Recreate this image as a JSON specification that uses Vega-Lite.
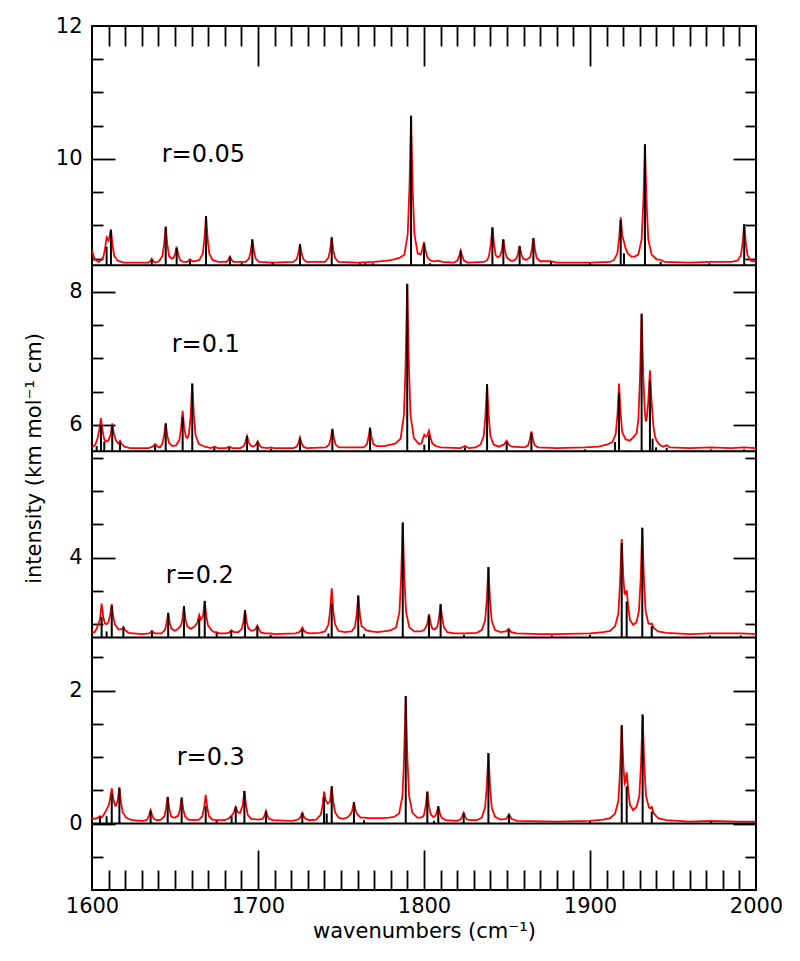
{
  "$schema": "https://vega.github.io/schema/vega-lite/v6.json",
  "width": 664,
  "height": 864,
  "autosize": {"type": "none"},
  "padding": {"left": 92, "top": 26, "right": 44, "bottom": 71},
  "config": {
    "font": "DejaVu Sans",
    "view": {"stroke": "#000000", "strokeWidth": 2},
    "axis": {
      "domain": false,
      "grid": false,
      "tickColor": "#000000",
      "tickWidth": 1.8,
      "labelColor": "#000000",
      "titleColor": "#000000",
      "labelFont": "DejaVu Sans",
      "titleFont": "DejaVu Sans",
      "labelFontSize": 21,
      "titleFontSize": 21,
      "titleFontWeight": "normal",
      "labelFlush": false,
      "labelOverlap": false
    }
  },
  "datasets": {
    "curve": [
      {"p":1,"x":1600,"y":8.63},{"p":1,"x":1601,"y":8.53},{"p":1,"x":1602,"y":8.48},{"p":1,"x":1604,"y":8.45},{"p":1,"x":1605,"y":8.47},{"p":1,"x":1606.8,"y":8.52},{"p":1,"x":1607.8,"y":8.64},{"p":1,"x":1608.8,"y":8.82},{"p":1,"x":1610,"y":8.77},{"p":1,"x":1611.4,"y":8.94},{"p":1,"x":1612.4,"y":8.70},{"p":1,"x":1613.4,"y":8.54},{"p":1,"x":1615.4,"y":8.47},{"p":1,"x":1619,"y":8.44},{"p":1,"x":1634,"y":8.44},{"p":1,"x":1635,"y":8.46},{"p":1,"x":1636,"y":8.50},{"p":1,"x":1637,"y":8.46},{"p":1,"x":1638,"y":8.44},{"p":1,"x":1640.4,"y":8.46},{"p":1,"x":1642.4,"y":8.54},{"p":1,"x":1643.4,"y":8.71},{"p":1,"x":1644.4,"y":8.98},{"p":1,"x":1645.4,"y":8.71},{"p":1,"x":1646.4,"y":8.54},{"p":1,"x":1648,"y":8.50},{"p":1,"x":1649,"y":8.51},{"p":1,"x":1650,"y":8.56},{"p":1,"x":1651,"y":8.68},{"p":1,"x":1652,"y":8.56},{"p":1,"x":1653,"y":8.48},{"p":1,"x":1655,"y":8.45},{"p":1,"x":1657.5,"y":8.45},{"p":1,"x":1659,"y":8.49},{"p":1,"x":1660.5,"y":8.46},{"p":1,"x":1662,"y":8.46},{"p":1,"x":1664.7,"y":8.48},{"p":1,"x":1666.7,"y":8.57},{"p":1,"x":1667.7,"y":8.79},{"p":1,"x":1668.7,"y":9.14},{"p":1,"x":1669.7,"y":8.79},{"p":1,"x":1670.7,"y":8.57},{"p":1,"x":1672.7,"y":8.48},{"p":1,"x":1676,"y":8.45},{"p":1,"x":1681.1,"y":8.45},{"p":1,"x":1682.1,"y":8.48},{"p":1,"x":1683.1,"y":8.53},{"p":1,"x":1684.1,"y":8.48},{"p":1,"x":1685.1,"y":8.45},{"p":1,"x":1690.2,"y":8.45},{"p":1,"x":1692.6,"y":8.45},{"p":1,"x":1694.6,"y":8.50},{"p":1,"x":1695.6,"y":8.61},{"p":1,"x":1696.6,"y":8.79},{"p":1,"x":1697.6,"y":8.61},{"p":1,"x":1698.6,"y":8.50},{"p":1,"x":1700.6,"y":8.45},{"p":1,"x":1708.8,"y":8.44},{"p":1,"x":1721.3,"y":8.45},{"p":1,"x":1723.3,"y":8.49},{"p":1,"x":1724.3,"y":8.58},{"p":1,"x":1725.3,"y":8.72},{"p":1,"x":1726.3,"y":8.58},{"p":1,"x":1727.3,"y":8.49},{"p":1,"x":1729.3,"y":8.45},{"p":1,"x":1740.4,"y":8.45},{"p":1,"x":1742.4,"y":8.51},{"p":1,"x":1743.4,"y":8.62},{"p":1,"x":1744.4,"y":8.82},{"p":1,"x":1745.4,"y":8.62},{"p":1,"x":1746.4,"y":8.51},{"p":1,"x":1748.4,"y":8.45},{"p":1,"x":1760,"y":8.44},{"p":1,"x":1770,"y":8.45},{"p":1,"x":1778,"y":8.47},{"p":1,"x":1782,"y":8.49},{"p":1,"x":1785.2,"y":8.51},{"p":1,"x":1788.2,"y":8.56},{"p":1,"x":1790.2,"y":8.87},{"p":1,"x":1791.2,"y":9.54},{"p":1,"x":1792.2,"y":10.65},{"p":1,"x":1793.2,"y":9.54},{"p":1,"x":1794.2,"y":8.87},{"p":1,"x":1796.2,"y":8.58},{"p":1,"x":1798,"y":8.56},{"p":1,"x":1799,"y":8.64},{"p":1,"x":1800,"y":8.75},{"p":1,"x":1801,"y":8.62},{"p":1,"x":1802,"y":8.52},{"p":1,"x":1804,"y":8.47},{"p":1,"x":1806,"y":8.46},{"p":1,"x":1808.6,"y":8.47},{"p":1,"x":1811,"y":8.45},{"p":1,"x":1818.1,"y":8.44},{"p":1,"x":1820.1,"y":8.47},{"p":1,"x":1821.1,"y":8.53},{"p":1,"x":1822.1,"y":8.62},{"p":1,"x":1823.1,"y":8.53},{"p":1,"x":1824.1,"y":8.47},{"p":1,"x":1826.1,"y":8.44},{"p":1,"x":1836,"y":8.45},{"p":1,"x":1838.2,"y":8.48},{"p":1,"x":1839.2,"y":8.55},{"p":1,"x":1840.2,"y":8.70},{"p":1,"x":1841.2,"y":8.97},{"p":1,"x":1842.2,"y":8.71},{"p":1,"x":1843.2,"y":8.55},{"p":1,"x":1844.5,"y":8.52},{"p":1,"x":1845.8,"y":8.54},{"p":1,"x":1846.8,"y":8.62},{"p":1,"x":1847.8,"y":8.79},{"p":1,"x":1848.8,"y":8.62},{"p":1,"x":1849.8,"y":8.52},{"p":1,"x":1852,"y":8.47},{"p":1,"x":1854,"y":8.47},{"p":1,"x":1855.6,"y":8.50},{"p":1,"x":1856.6,"y":8.57},{"p":1,"x":1857.6,"y":8.69},{"p":1,"x":1858.6,"y":8.57},{"p":1,"x":1859.6,"y":8.50},{"p":1,"x":1861.5,"y":8.48},{"p":1,"x":1863.9,"y":8.52},{"p":1,"x":1864.9,"y":8.63},{"p":1,"x":1865.9,"y":8.81},{"p":1,"x":1866.9,"y":8.63},{"p":1,"x":1867.9,"y":8.51},{"p":1,"x":1870,"y":8.46},{"p":1,"x":1876.5,"y":8.46},{"p":1,"x":1880,"y":8.44},{"p":1,"x":1900,"y":8.44},{"p":1,"x":1912,"y":8.45},{"p":1,"x":1914.5,"y":8.48},{"p":1,"x":1916.5,"y":8.58},{"p":1,"x":1917.5,"y":8.79},{"p":1,"x":1918.5,"y":9.12},{"p":1,"x":1919.5,"y":8.84},{"p":1,"x":1920.5,"y":8.75},{"p":1,"x":1921.5,"y":8.65},{"p":1,"x":1923,"y":8.57},{"p":1,"x":1925,"y":8.53},{"p":1,"x":1927,"y":8.53},{"p":1,"x":1929.1,"y":8.56},{"p":1,"x":1931.1,"y":8.79},{"p":1,"x":1932.1,"y":9.33},{"p":1,"x":1933.1,"y":10.22},{"p":1,"x":1934.1,"y":9.33},{"p":1,"x":1935.1,"y":8.79},{"p":1,"x":1937.1,"y":8.56},{"p":1,"x":1940.1,"y":8.49},{"p":1,"x":1942.6,"y":8.48},{"p":1,"x":1945,"y":8.45},{"p":1,"x":1960,"y":8.44},{"p":1,"x":1971.9,"y":8.45},{"p":1,"x":1985,"y":8.45},{"p":1,"x":1988.9,"y":8.47},{"p":1,"x":1990.9,"y":8.55},{"p":1,"x":1991.9,"y":8.73},{"p":1,"x":1992.9,"y":9.02},{"p":1,"x":1993.9,"y":8.73},{"p":1,"x":1994.9,"y":8.55},{"p":1,"x":1996.9,"y":8.47},{"p":1,"x":2000,"y":8.45},

      {"p":2,"x":1600,"y":5.66},{"p":2,"x":1602,"y":5.70},{"p":2,"x":1603.4,"y":5.80},{"p":2,"x":1604.4,"y":5.93},{"p":2,"x":1605.4,"y":6.10},{"p":2,"x":1606.4,"y":5.90},{"p":2,"x":1607.4,"y":5.78},{"p":2,"x":1608.5,"y":5.75},{"p":2,"x":1609.8,"y":5.76},{"p":2,"x":1611.2,"y":5.85},{"p":2,"x":1612.2,"y":6.02},{"p":2,"x":1613.2,"y":5.86},{"p":2,"x":1614.5,"y":5.76},{"p":2,"x":1615.9,"y":5.72},{"p":2,"x":1616.9,"y":5.76},{"p":2,"x":1617.9,"y":5.71},{"p":2,"x":1619.5,"y":5.67},{"p":2,"x":1623,"y":5.65},{"p":2,"x":1634,"y":5.65},{"p":2,"x":1636.5,"y":5.67},{"p":2,"x":1638,"y":5.71},{"p":2,"x":1639.5,"y":5.67},{"p":2,"x":1641,"y":5.66},{"p":2,"x":1642.4,"y":5.72},{"p":2,"x":1643.4,"y":5.83},{"p":2,"x":1644.4,"y":6.02},{"p":2,"x":1645.4,"y":5.83},{"p":2,"x":1646.4,"y":5.73},{"p":2,"x":1648.4,"y":5.68},{"p":2,"x":1650.6,"y":5.69},{"p":2,"x":1652.6,"y":5.77},{"p":2,"x":1653.6,"y":5.93},{"p":2,"x":1654.6,"y":6.21},{"p":2,"x":1655.6,"y":5.94},{"p":2,"x":1656.6,"y":5.82},{"p":2,"x":1657.5,"y":5.80},{"p":2,"x":1658.4,"y":5.86},{"p":2,"x":1659.4,"y":6.13},{"p":2,"x":1660.4,"y":6.62},{"p":2,"x":1661.4,"y":6.13},{"p":2,"x":1662.4,"y":5.84},{"p":2,"x":1664.4,"y":5.71},{"p":2,"x":1668,"y":5.67},{"p":2,"x":1671.7,"y":5.65},{"p":2,"x":1673.7,"y":5.67},{"p":2,"x":1675.7,"y":5.65},{"p":2,"x":1680.7,"y":5.65},{"p":2,"x":1682.7,"y":5.67},{"p":2,"x":1684.7,"y":5.65},{"p":2,"x":1689.4,"y":5.65},{"p":2,"x":1691.4,"y":5.68},{"p":2,"x":1692.4,"y":5.74},{"p":2,"x":1693.4,"y":5.83},{"p":2,"x":1694.4,"y":5.74},{"p":2,"x":1695.4,"y":5.69},{"p":2,"x":1697,"y":5.67},{"p":2,"x":1698.8,"y":5.70},{"p":2,"x":1699.8,"y":5.75},{"p":2,"x":1700.8,"y":5.70},{"p":2,"x":1702,"y":5.66},{"p":2,"x":1706,"y":5.65},{"p":2,"x":1707.8,"y":5.66},{"p":2,"x":1709.5,"y":5.65},{"p":2,"x":1721.3,"y":5.65},{"p":2,"x":1723.3,"y":5.67},{"p":2,"x":1724.3,"y":5.72},{"p":2,"x":1725.3,"y":5.81},{"p":2,"x":1726.3,"y":5.72},{"p":2,"x":1727.3,"y":5.67},{"p":2,"x":1729.3,"y":5.65},{"p":2,"x":1740.8,"y":5.66},{"p":2,"x":1742.8,"y":5.70},{"p":2,"x":1743.8,"y":5.79},{"p":2,"x":1744.8,"y":5.94},{"p":2,"x":1745.8,"y":5.79},{"p":2,"x":1746.8,"y":5.70},{"p":2,"x":1748.8,"y":5.66},{"p":2,"x":1763.5,"y":5.66},{"p":2,"x":1765.5,"y":5.70},{"p":2,"x":1766.5,"y":5.80},{"p":2,"x":1767.5,"y":5.96},{"p":2,"x":1768.5,"y":5.80},{"p":2,"x":1769.5,"y":5.71},{"p":2,"x":1771.5,"y":5.68},{"p":2,"x":1776,"y":5.68},{"p":2,"x":1780,"y":5.70},{"p":2,"x":1782.9,"y":5.72},{"p":2,"x":1785.9,"y":5.79},{"p":2,"x":1787.9,"y":6.14},{"p":2,"x":1788.9,"y":6.88},{"p":2,"x":1789.9,"y":8.12},{"p":2,"x":1790.9,"y":6.88},{"p":2,"x":1791.9,"y":6.14},{"p":2,"x":1793.9,"y":5.80},{"p":2,"x":1796.9,"y":5.71},{"p":2,"x":1798.5,"y":5.72},{"p":2,"x":1799.2,"y":5.78},{"p":2,"x":1800.2,"y":5.85},{"p":2,"x":1801.2,"y":5.82},{"p":2,"x":1802,"y":5.84},{"p":2,"x":1803,"y":5.91},{"p":2,"x":1804,"y":5.80},{"p":2,"x":1805,"y":5.72},{"p":2,"x":1807,"y":5.68},{"p":2,"x":1810,"y":5.66},{"p":2,"x":1822,"y":5.65},{"p":2,"x":1824.7,"y":5.68},{"p":2,"x":1827,"y":5.65},{"p":2,"x":1831,"y":5.66},{"p":2,"x":1834,"y":5.70},{"p":2,"x":1836,"y":5.83},{"p":2,"x":1837,"y":6.13},{"p":2,"x":1838,"y":6.61},{"p":2,"x":1839,"y":6.13},{"p":2,"x":1840,"y":5.83},{"p":2,"x":1842,"y":5.70},{"p":2,"x":1845,"y":5.67},{"p":2,"x":1848,"y":5.70},{"p":2,"x":1849.8,"y":5.76},{"p":2,"x":1851,"y":5.70},{"p":2,"x":1853,"y":5.67},{"p":2,"x":1860.7,"y":5.66},{"p":2,"x":1862.7,"y":5.69},{"p":2,"x":1863.7,"y":5.77},{"p":2,"x":1864.7,"y":5.90},{"p":2,"x":1865.7,"y":5.77},{"p":2,"x":1866.7,"y":5.69},{"p":2,"x":1868.7,"y":5.66},{"p":2,"x":1880,"y":5.65},{"p":2,"x":1897,"y":5.66},{"p":2,"x":1905,"y":5.67},{"p":2,"x":1910,"y":5.70},{"p":2,"x":1913.5,"y":5.74},{"p":2,"x":1915.5,"y":5.86},{"p":2,"x":1916.5,"y":6.14},{"p":2,"x":1917.5,"y":6.62},{"p":2,"x":1918.5,"y":6.14},{"p":2,"x":1919.5,"y":5.88},{"p":2,"x":1921.5,"y":5.78},{"p":2,"x":1924,"y":5.76},{"p":2,"x":1926,"y":5.81},{"p":2,"x":1928.1,"y":5.87},{"p":2,"x":1929.1,"y":6.07},{"p":2,"x":1930.1,"y":6.69},{"p":2,"x":1931.1,"y":7.67},{"p":2,"x":1932.1,"y":6.72},{"p":2,"x":1933.1,"y":6.17},{"p":2,"x":1933.6,"y":6.05},{"p":2,"x":1934.1,"y":6.08},{"p":2,"x":1935.1,"y":6.35},{"p":2,"x":1936.1,"y":6.82},{"p":2,"x":1937.1,"y":6.35},{"p":2,"x":1938.1,"y":6.00},{"p":2,"x":1939.1,"y":5.83},{"p":2,"x":1940.1,"y":5.76},{"p":2,"x":1942,"y":5.70},{"p":2,"x":1944,"y":5.67},{"p":2,"x":1946.2,"y":5.69},{"p":2,"x":1948,"y":5.66},{"p":2,"x":1960,"y":5.65},{"p":2,"x":1972.9,"y":5.66},{"p":2,"x":1985,"y":5.65},{"p":2,"x":1992.8,"y":5.66},{"p":2,"x":2000,"y":5.65},

      {"p":3,"x":1600,"y":2.87},{"p":3,"x":1601.5,"y":2.88},{"p":3,"x":1602.8,"y":2.93},{"p":3,"x":1604.8,"y":3.07},{"p":3,"x":1605.8,"y":3.31},{"p":3,"x":1606.8,"y":3.10},{"p":3,"x":1607.8,"y":3.01},{"p":3,"x":1608.8,"y":3.00},{"p":3,"x":1609.9,"y":3.03},{"p":3,"x":1610.9,"y":3.13},{"p":3,"x":1611.9,"y":3.30},{"p":3,"x":1612.9,"y":3.10},{"p":3,"x":1613.9,"y":2.99},{"p":3,"x":1615.9,"y":2.92},{"p":3,"x":1617.9,"y":2.92},{"p":3,"x":1618.9,"y":2.96},{"p":3,"x":1619.9,"y":2.91},{"p":3,"x":1622,"y":2.87},{"p":3,"x":1630,"y":2.85},{"p":3,"x":1634.6,"y":2.86},{"p":3,"x":1636.1,"y":2.90},{"p":3,"x":1637.6,"y":2.86},{"p":3,"x":1641.9,"y":2.86},{"p":3,"x":1643.9,"y":2.91},{"p":3,"x":1644.9,"y":3.01},{"p":3,"x":1645.9,"y":3.17},{"p":3,"x":1646.9,"y":3.01},{"p":3,"x":1647.9,"y":2.93},{"p":3,"x":1649.9,"y":2.90},{"p":3,"x":1651.4,"y":2.92},{"p":3,"x":1653.4,"y":2.97},{"p":3,"x":1654.4,"y":3.06},{"p":3,"x":1655.4,"y":3.27},{"p":3,"x":1656.4,"y":3.06},{"p":3,"x":1657.4,"y":2.97},{"p":3,"x":1659.4,"y":2.93},{"p":3,"x":1661.6,"y":2.96},{"p":3,"x":1662.6,"y":2.99},{"p":3,"x":1663.6,"y":3.03},{"p":3,"x":1664.6,"y":3.14},{"p":3,"x":1665.6,"y":3.07},{"p":3,"x":1666.9,"y":3.12},{"p":3,"x":1667.9,"y":3.35},{"p":3,"x":1668.9,"y":3.11},{"p":3,"x":1669.9,"y":2.98},{"p":3,"x":1671.9,"y":2.91},{"p":3,"x":1673.6,"y":2.88},{"p":3,"x":1675.1,"y":2.88},{"p":3,"x":1676.6,"y":2.86},{"p":3,"x":1680,"y":2.86},{"p":3,"x":1682.4,"y":2.87},{"p":3,"x":1683.9,"y":2.91},{"p":3,"x":1685.4,"y":2.88},{"p":3,"x":1688.2,"y":2.88},{"p":3,"x":1690.2,"y":2.93},{"p":3,"x":1691.2,"y":3.03},{"p":3,"x":1692.2,"y":3.21},{"p":3,"x":1693.2,"y":3.03},{"p":3,"x":1694.2,"y":2.94},{"p":3,"x":1696,"y":2.90},{"p":3,"x":1697.6,"y":2.91},{"p":3,"x":1698.6,"y":2.93},{"p":3,"x":1699.6,"y":2.98},{"p":3,"x":1700.6,"y":2.92},{"p":3,"x":1701.6,"y":2.88},{"p":3,"x":1704,"y":2.86},{"p":3,"x":1707.6,"y":2.86},{"p":3,"x":1710,"y":2.85},{"p":3,"x":1722.7,"y":2.86},{"p":3,"x":1724.7,"y":2.88},{"p":3,"x":1725.7,"y":2.90},{"p":3,"x":1726.7,"y":2.95},{"p":3,"x":1727.7,"y":2.90},{"p":3,"x":1728.7,"y":2.88},{"p":3,"x":1730.7,"y":2.86},{"p":3,"x":1737,"y":2.87},{"p":3,"x":1740.4,"y":2.89},{"p":3,"x":1742.4,"y":2.99},{"p":3,"x":1743.4,"y":3.19},{"p":3,"x":1744.4,"y":3.54},{"p":3,"x":1745.4,"y":3.19},{"p":3,"x":1746.4,"y":3.00},{"p":3,"x":1748.4,"y":2.90},{"p":3,"x":1752,"y":2.88},{"p":3,"x":1756.4,"y":2.89},{"p":3,"x":1758.4,"y":2.96},{"p":3,"x":1759.4,"y":3.14},{"p":3,"x":1760.4,"y":3.43},{"p":3,"x":1761.4,"y":3.14},{"p":3,"x":1762.4,"y":2.97},{"p":3,"x":1763.9,"y":2.94},{"p":3,"x":1765,"y":2.91},{"p":3,"x":1768,"y":2.89},{"p":3,"x":1772,"y":2.88},{"p":3,"x":1778,"y":2.90},{"p":3,"x":1780.2,"y":2.91},{"p":3,"x":1783.2,"y":2.95},{"p":3,"x":1785.2,"y":3.18},{"p":3,"x":1786.2,"y":3.69},{"p":3,"x":1787.2,"y":4.53},{"p":3,"x":1788.2,"y":3.69},{"p":3,"x":1789.2,"y":3.18},{"p":3,"x":1791.2,"y":2.95},{"p":3,"x":1794.2,"y":2.89},{"p":3,"x":1798,"y":2.89},{"p":3,"x":1800,"y":2.91},{"p":3,"x":1801,"y":2.95},{"p":3,"x":1802,"y":3.01},{"p":3,"x":1803,"y":3.15},{"p":3,"x":1804,"y":3.01},{"p":3,"x":1805,"y":2.93},{"p":3,"x":1806.5,"y":2.92},{"p":3,"x":1808,"y":2.96},{"p":3,"x":1809,"y":3.08},{"p":3,"x":1810,"y":3.30},{"p":3,"x":1811,"y":3.08},{"p":3,"x":1812,"y":2.95},{"p":3,"x":1814,"y":2.88},{"p":3,"x":1818,"y":2.86},{"p":3,"x":1824.1,"y":2.86},{"p":3,"x":1831.8,"y":2.87},{"p":3,"x":1834.8,"y":2.91},{"p":3,"x":1836.8,"y":3.05},{"p":3,"x":1837.8,"y":3.35},{"p":3,"x":1838.8,"y":3.86},{"p":3,"x":1839.8,"y":3.35},{"p":3,"x":1840.8,"y":3.05},{"p":3,"x":1842.8,"y":2.91},{"p":3,"x":1846,"y":2.88},{"p":3,"x":1849.5,"y":2.89},{"p":3,"x":1851,"y":2.93},{"p":3,"x":1852.5,"y":2.88},{"p":3,"x":1856,"y":2.86},{"p":3,"x":1870,"y":2.85},{"p":3,"x":1880,"y":2.85},{"p":3,"x":1900,"y":2.86},{"p":3,"x":1908,"y":2.88},{"p":3,"x":1912.1,"y":2.90},{"p":3,"x":1915.1,"y":2.97},{"p":3,"x":1917.1,"y":3.16},{"p":3,"x":1918.1,"y":3.62},{"p":3,"x":1919.1,"y":4.28},{"p":3,"x":1920.1,"y":3.70},{"p":3,"x":1920.8,"y":3.46},{"p":3,"x":1921.2,"y":3.45},{"p":3,"x":1922.1,"y":3.51},{"p":3,"x":1923.1,"y":3.25},{"p":3,"x":1924.1,"y":3.06},{"p":3,"x":1926,"y":2.99},{"p":3,"x":1928,"y":3.03},{"p":3,"x":1929.5,"y":3.20},{"p":3,"x":1930.5,"y":3.67},{"p":3,"x":1931.5,"y":4.45},{"p":3,"x":1932.5,"y":3.67},{"p":3,"x":1933.5,"y":3.20},{"p":3,"x":1935.2,"y":3.01},{"p":3,"x":1936.2,"y":3.00},{"p":3,"x":1937.2,"y":3.01},{"p":3,"x":1938.5,"y":2.94},{"p":3,"x":1941,"y":2.89},{"p":3,"x":1946,"y":2.87},{"p":3,"x":1960,"y":2.85},{"p":3,"x":1972.3,"y":2.86},{"p":3,"x":1990.8,"y":2.86},{"p":3,"x":2000,"y":2.85},

      {"p":4,"x":1600,"y":0.08},{"p":4,"x":1602,"y":0.07},{"p":4,"x":1603.8,"y":0.09},{"p":4,"x":1604.8,"y":0.11},{"p":4,"x":1605.8,"y":0.09},{"p":4,"x":1607,"y":0.13},{"p":4,"x":1608.8,"y":0.21},{"p":4,"x":1610,"y":0.27},{"p":4,"x":1610.9,"y":0.37},{"p":4,"x":1611.9,"y":0.53},{"p":4,"x":1612.9,"y":0.36},{"p":4,"x":1613.9,"y":0.27},{"p":4,"x":1614.5,"y":0.27},{"p":4,"x":1615.5,"y":0.35},{"p":4,"x":1616.5,"y":0.54},{"p":4,"x":1617.5,"y":0.31},{"p":4,"x":1618.5,"y":0.17},{"p":4,"x":1620.5,"y":0.09},{"p":4,"x":1624,"y":0.05},{"p":4,"x":1630,"y":0.04},{"p":4,"x":1631.3,"y":0.04},{"p":4,"x":1633.3,"y":0.06},{"p":4,"x":1634.3,"y":0.12},{"p":4,"x":1635.3,"y":0.20},{"p":4,"x":1636.3,"y":0.12},{"p":4,"x":1637.3,"y":0.07},{"p":4,"x":1639.3,"y":0.05},{"p":4,"x":1641.6,"y":0.06},{"p":4,"x":1643.6,"y":0.11},{"p":4,"x":1644.6,"y":0.22},{"p":4,"x":1645.6,"y":0.40},{"p":4,"x":1646.6,"y":0.22},{"p":4,"x":1647.6,"y":0.11},{"p":4,"x":1649,"y":0.09},{"p":4,"x":1650,"y":0.09},{"p":4,"x":1652,"y":0.12},{"p":4,"x":1653,"y":0.21},{"p":4,"x":1654,"y":0.39},{"p":4,"x":1655,"y":0.21},{"p":4,"x":1656,"y":0.11},{"p":4,"x":1658,"y":0.06},{"p":4,"x":1662,"y":0.05},{"p":4,"x":1664.5,"y":0.06},{"p":4,"x":1666.5,"y":0.11},{"p":4,"x":1667.5,"y":0.23},{"p":4,"x":1668.5,"y":0.43},{"p":4,"x":1669.5,"y":0.23},{"p":4,"x":1670.5,"y":0.11},{"p":4,"x":1672.5,"y":0.06},{"p":4,"x":1675.1,"y":0.05},{"p":4,"x":1680,"y":0.05},{"p":4,"x":1682.5,"y":0.08},{"p":4,"x":1684.1,"y":0.12},{"p":4,"x":1685.1,"y":0.15},{"p":4,"x":1686.6,"y":0.25},{"p":4,"x":1687.8,"y":0.17},{"p":4,"x":1689.2,"y":0.16},{"p":4,"x":1690.8,"y":0.27},{"p":4,"x":1691.8,"y":0.49},{"p":4,"x":1692.8,"y":0.27},{"p":4,"x":1693.8,"y":0.13},{"p":4,"x":1695.8,"y":0.07},{"p":4,"x":1700,"y":0.06},{"p":4,"x":1702.8,"y":0.07},{"p":4,"x":1703.8,"y":0.11},{"p":4,"x":1704.8,"y":0.19},{"p":4,"x":1705.8,"y":0.11},{"p":4,"x":1706.8,"y":0.07},{"p":4,"x":1709,"y":0.05},{"p":4,"x":1720,"y":0.04},{"p":4,"x":1723,"y":0.05},{"p":4,"x":1724.7,"y":0.07},{"p":4,"x":1725.7,"y":0.10},{"p":4,"x":1726.7,"y":0.16},{"p":4,"x":1727.7,"y":0.10},{"p":4,"x":1728.7,"y":0.07},{"p":4,"x":1731,"y":0.05},{"p":4,"x":1735,"y":0.06},{"p":4,"x":1737.8,"y":0.13},{"p":4,"x":1738.8,"y":0.26},{"p":4,"x":1739.8,"y":0.48},{"p":4,"x":1740.8,"y":0.35},{"p":4,"x":1742,"y":0.30},{"p":4,"x":1743.4,"y":0.33},{"p":4,"x":1744.4,"y":0.56},{"p":4,"x":1745.4,"y":0.32},{"p":4,"x":1746.4,"y":0.17},{"p":4,"x":1748.4,"y":0.09},{"p":4,"x":1751,"y":0.07},{"p":4,"x":1753.8,"y":0.09},{"p":4,"x":1755.8,"y":0.14},{"p":4,"x":1756.8,"y":0.20},{"p":4,"x":1757.8,"y":0.32},{"p":4,"x":1758.8,"y":0.20},{"p":4,"x":1759.8,"y":0.14},{"p":4,"x":1761.8,"y":0.09},{"p":4,"x":1763.9,"y":0.09},{"p":4,"x":1766,"y":0.08},{"p":4,"x":1775,"y":0.08},{"p":4,"x":1779,"y":0.09},{"p":4,"x":1782,"y":0.10},{"p":4,"x":1785,"y":0.15},{"p":4,"x":1787,"y":0.41},{"p":4,"x":1788,"y":0.98},{"p":4,"x":1789,"y":1.92},{"p":4,"x":1790,"y":0.98},{"p":4,"x":1791,"y":0.42},{"p":4,"x":1793,"y":0.16},{"p":4,"x":1796,"y":0.09},{"p":4,"x":1798,"y":0.09},{"p":4,"x":1799.5,"y":0.11},{"p":4,"x":1800,"y":0.13},{"p":4,"x":1801,"y":0.26},{"p":4,"x":1802,"y":0.48},{"p":4,"x":1803,"y":0.26},{"p":4,"x":1804,"y":0.14},{"p":4,"x":1805.5,"y":0.10},{"p":4,"x":1806.6,"y":0.11},{"p":4,"x":1807.6,"y":0.16},{"p":4,"x":1808.6,"y":0.26},{"p":4,"x":1809.6,"y":0.15},{"p":4,"x":1810.6,"y":0.09},{"p":4,"x":1813,"y":0.05},{"p":4,"x":1819.9,"y":0.04},{"p":4,"x":1821.9,"y":0.06},{"p":4,"x":1822.9,"y":0.10},{"p":4,"x":1823.9,"y":0.16},{"p":4,"x":1824.9,"y":0.10},{"p":4,"x":1825.9,"y":0.06},{"p":4,"x":1828,"y":0.05},{"p":4,"x":1831.8,"y":0.05},{"p":4,"x":1834.8,"y":0.09},{"p":4,"x":1836.8,"y":0.24},{"p":4,"x":1837.8,"y":0.55},{"p":4,"x":1838.8,"y":1.06},{"p":4,"x":1839.8,"y":0.55},{"p":4,"x":1840.8,"y":0.24},{"p":4,"x":1842.8,"y":0.10},{"p":4,"x":1846,"y":0.06},{"p":4,"x":1849.5,"y":0.07},{"p":4,"x":1851.2,"y":0.14},{"p":4,"x":1852.7,"y":0.07},{"p":4,"x":1856,"y":0.04},{"p":4,"x":1880,"y":0.03},{"p":4,"x":1900,"y":0.04},{"p":4,"x":1908,"y":0.06},{"p":4,"x":1912.1,"y":0.08},{"p":4,"x":1915.1,"y":0.15},{"p":4,"x":1917.1,"y":0.34},{"p":4,"x":1918.1,"y":0.79},{"p":4,"x":1919.1,"y":1.48},{"p":4,"x":1920.1,"y":0.87},{"p":4,"x":1920.9,"y":0.60},{"p":4,"x":1921.3,"y":0.62},{"p":4,"x":1922.1,"y":0.77},{"p":4,"x":1923.1,"y":0.48},{"p":4,"x":1924.1,"y":0.28},{"p":4,"x":1926,"y":0.20},{"p":4,"x":1928,"y":0.25},{"p":4,"x":1929.7,"y":0.41},{"p":4,"x":1930.7,"y":0.88},{"p":4,"x":1931.7,"y":1.64},{"p":4,"x":1932.7,"y":0.88},{"p":4,"x":1933.7,"y":0.42},{"p":4,"x":1935.5,"y":0.24},{"p":4,"x":1936.4,"y":0.23},{"p":4,"x":1937.2,"y":0.25},{"p":4,"x":1938.5,"y":0.15},{"p":4,"x":1941,"y":0.08},{"p":4,"x":1946,"y":0.05},{"p":4,"x":1960,"y":0.03},{"p":4,"x":1972.9,"y":0.04},{"p":4,"x":1990,"y":0.03},{"p":4,"x":2000,"y":0.03}
    ],
    "sticks": [
      {"x":1608.8,"y":8.68,"b":8.4},{"x":1611.4,"y":8.93,"b":8.4},{"x":1636.0,"y":8.48,"b":8.4},{"x":1644.4,"y":8.98,"b":8.4},{"x":1651.0,"y":8.66,"b":8.4},{"x":1659.0,"y":8.47,"b":8.4},{"x":1668.7,"y":9.14,"b":8.4},{"x":1683.1,"y":8.53,"b":8.4},{"x":1690.2,"y":8.44,"b":8.4},{"x":1696.6,"y":8.79,"b":8.4},{"x":1708.8,"y":8.44,"b":8.4},{"x":1725.3,"y":8.72,"b":8.4},{"x":1744.4,"y":8.82,"b":8.4},{"x":1761.4,"y":8.43,"b":8.4},{"x":1764.5,"y":8.43,"b":8.4},{"x":1769.1,"y":8.43,"b":8.4},{"x":1792.2,"y":10.65,"b":8.4},{"x":1800.0,"y":8.72,"b":8.4},{"x":1803.6,"y":8.43,"b":8.4},{"x":1822.1,"y":8.62,"b":8.4},{"x":1841.2,"y":8.97,"b":8.4},{"x":1847.8,"y":8.79,"b":8.4},{"x":1857.6,"y":8.69,"b":8.4},{"x":1865.9,"y":8.81,"b":8.4},{"x":1876.5,"y":8.45,"b":8.4},{"x":1900,"y":8.43,"b":8.4},{"x":1918.5,"y":9.08,"b":8.4},{"x":1920.5,"y":8.58,"b":8.4},{"x":1933.1,"y":10.22,"b":8.4},{"x":1942.6,"y":8.45,"b":8.4},{"x":1971.9,"y":8.43,"b":8.4},{"x":1992.9,"y":9.02,"b":8.4},

      {"x":1602.8,"y":5.68,"b":5.6},{"x":1605.4,"y":6.0,"b":5.6},{"x":1607.4,"y":5.75,"b":5.6},{"x":1612.2,"y":6.0,"b":5.6},{"x":1616.9,"y":5.74,"b":5.6},{"x":1638.0,"y":5.69,"b":5.6},{"x":1644.4,"y":6.02,"b":5.6},{"x":1654.6,"y":6.12,"b":5.6},{"x":1660.4,"y":6.62,"b":5.6},{"x":1673.7,"y":5.66,"b":5.6},{"x":1682.7,"y":5.66,"b":5.6},{"x":1693.4,"y":5.83,"b":5.6},{"x":1699.8,"y":5.74,"b":5.6},{"x":1707.8,"y":5.64,"b":5.6},{"x":1725.3,"y":5.8,"b":5.6},{"x":1744.8,"y":5.93,"b":5.6},{"x":1767.5,"y":5.95,"b":5.6},{"x":1789.9,"y":8.12,"b":5.6},{"x":1800.2,"y":5.7,"b":5.6},{"x":1803.0,"y":5.84,"b":5.6},{"x":1824.7,"y":5.66,"b":5.6},{"x":1838.0,"y":6.61,"b":5.6},{"x":1849.8,"y":5.74,"b":5.6},{"x":1864.7,"y":5.88,"b":5.6},{"x":1897,"y":5.63,"b":5.6},{"x":1915.1,"y":5.74,"b":5.6},{"x":1917.5,"y":6.48,"b":5.6},{"x":1931.1,"y":7.67,"b":5.6},{"x":1936.1,"y":6.66,"b":5.6},{"x":1937.7,"y":5.79,"b":5.6},{"x":1939.8,"y":5.66,"b":5.6},{"x":1946.2,"y":5.65,"b":5.6},{"x":1972.9,"y":5.63,"b":5.6},{"x":1992.8,"y":5.63,"b":5.6},

      {"x":1605.8,"y":3.11,"b":2.8},{"x":1608.8,"y":2.89,"b":2.8},{"x":1611.9,"y":3.28,"b":2.8},{"x":1618.9,"y":2.95,"b":2.8},{"x":1636.1,"y":2.89,"b":2.8},{"x":1645.9,"y":3.17,"b":2.8},{"x":1655.4,"y":3.27,"b":2.8},{"x":1664.6,"y":3.08,"b":2.8},{"x":1667.9,"y":3.35,"b":2.8},{"x":1675.1,"y":2.87,"b":2.8},{"x":1683.9,"y":2.9,"b":2.8},{"x":1692.2,"y":3.21,"b":2.8},{"x":1699.6,"y":2.97,"b":2.8},{"x":1707.6,"y":2.84,"b":2.8},{"x":1726.7,"y":2.93,"b":2.8},{"x":1742.4,"y":2.86,"b":2.8},{"x":1744.4,"y":3.31,"b":2.8},{"x":1760.4,"y":3.43,"b":2.8},{"x":1763.9,"y":2.85,"b":2.8},{"x":1787.2,"y":4.53,"b":2.8},{"x":1803.0,"y":3.13,"b":2.8},{"x":1810.0,"y":3.3,"b":2.8},{"x":1824.1,"y":2.84,"b":2.8},{"x":1838.8,"y":3.86,"b":2.8},{"x":1851.0,"y":2.92,"b":2.8},{"x":1877,"y":2.83,"b":2.8},{"x":1900,"y":2.84,"b":2.8},{"x":1919.1,"y":4.22,"b":2.8},{"x":1922.1,"y":3.34,"b":2.8},{"x":1931.5,"y":4.45,"b":2.8},{"x":1937.2,"y":2.97,"b":2.8},{"x":1972.3,"y":2.83,"b":2.8},{"x":1990.8,"y":2.83,"b":2.8},

      {"x":1604.8,"y":0.1,"b":0},{"x":1608.8,"y":0.11,"b":0},{"x":1611.9,"y":0.45,"b":0},{"x":1616.5,"y":0.54,"b":0},{"x":1635.3,"y":0.19,"b":0},{"x":1645.6,"y":0.4,"b":0},{"x":1654.0,"y":0.39,"b":0},{"x":1668.5,"y":0.26,"b":0},{"x":1675.1,"y":0.04,"b":0},{"x":1684.1,"y":0.11,"b":0},{"x":1686.6,"y":0.25,"b":0},{"x":1691.8,"y":0.49,"b":0},{"x":1704.8,"y":0.19,"b":0},{"x":1726.7,"y":0.16,"b":0},{"x":1739.8,"y":0.4,"b":0},{"x":1741.4,"y":0.15,"b":0},{"x":1744.4,"y":0.56,"b":0},{"x":1757.8,"y":0.32,"b":0},{"x":1763.9,"y":0.05,"b":0},{"x":1789.0,"y":1.92,"b":0},{"x":1802.0,"y":0.48,"b":0},{"x":1806,"y":0.04,"b":0},{"x":1808.6,"y":0.26,"b":0},{"x":1823.9,"y":0.16,"b":0},{"x":1838.8,"y":1.06,"b":0},{"x":1851.2,"y":0.14,"b":0},{"x":1900,"y":0.03,"b":0},{"x":1919.1,"y":1.48,"b":0},{"x":1922.1,"y":0.56,"b":0},{"x":1931.7,"y":1.64,"b":0},{"x":1937.2,"y":0.18,"b":0},{"x":1972.9,"y":0.03,"b":0}
    ],
    "bases": [{"b":0},{"b":2.8},{"b":5.6},{"b":8.4}],
    "labels": [
      {"x":1642,"y":9.95,"t":"r=0.05"},
      {"x":1648,"y":7.09,"t":"r=0.1"},
      {"x":1644.4,"y":3.62,"t":"r=0.2"},
      {"x":1651,"y":0.88,"t":"r=0.3"}
    ]
  },
  "resolve": {"axis": {"x": "independent", "y": "independent"}},
  "layer": [
    {
      "data": {"name": "curve"},
      "transform": [{"filter": "datum.p <= 2"}],
      "mark": {"type": "line", "color": "#ff0000", "strokeWidth": 1.8, "clip": true},
      "encoding": {
        "x": {"field": "x", "type": "quantitative", "scale": {"domain": [1600, 2000], "nice": false, "zero": false},
          "axis": {"orient": "bottom", "values": [1600, 1700, 1800, 1900, 2000], "format": "d", "ticks": false, "labelPadding": 5, "labelFontSize": 21, "labelFont": "DejaVu Sans", "title": "wavenumbers (cm⁻¹)", "titleFontSize": 21, "titleFont": "DejaVu Sans", "titleFontWeight": "normal", "titlePadding": 4}},
        "y": {"field": "y", "type": "quantitative", "scale": {"domain": [-1, 12], "nice": false, "zero": false},
          "axis": {"orient": "left", "values": [0, 2, 4, 6, 8, 10, 12], "format": "d", "ticks": false, "labelPadding": 10, "labelFontSize": 21, "labelFont": "DejaVu Sans", "title": "intensity (km mol⁻¹ cm)", "titleFontSize": 21, "titleFont": "DejaVu Sans", "titleFontWeight": "normal", "titlePadding": 11}},
        "detail": {"field": "p", "type": "nominal"}
      }
    },
    {
      "data": {"name": "curve"},
      "transform": [{"filter": "datum.p > 2"}],
      "mark": {"type": "line", "color": "#ff0000", "strokeWidth": 1.8, "clip": true},
      "encoding": {
        "x": {"field": "x", "type": "quantitative", "scale": {"domain": [1600, 2000], "nice": false, "zero": false},
          "axis": {"orient": "top", "values": [1610,1620,1630,1640,1650,1660,1670,1680,1690,1710,1720,1730,1740,1750,1760,1770,1780,1790,1810,1820,1830,1840,1850,1860,1870,1880,1890,1910,1920,1930,1940,1950,1960,1970,1980,1990], "tickSize": -20, "labels": false, "title": null}},
        "y": {"field": "y", "type": "quantitative", "scale": {"domain": [-1, 12], "nice": false, "zero": false},
          "axis": {"orient": "right", "values": [-0.5,0.5,1,1.5,2.5,3,3.5,4.5,5,5.5,6.5,7,7.5,8.5,9,9.5,10.5,11,11.5], "tickSize": -11, "labels": false, "title": null}},
        "detail": {"field": "p", "type": "nominal"}
      }
    },
    {
      "data": {"name": "sticks"},
      "transform": [{"filter": "datum.b >= 5"}],
      "mark": {"type": "rule", "color": "#000000", "strokeWidth": 2},
      "encoding": {
        "x": {"field": "x", "type": "quantitative", "scale": {"domain": [1600, 2000], "nice": false, "zero": false},
          "axis": {"orient": "bottom", "values": [1700, 1800, 1900], "tickSize": -40, "labels": false, "title": null}},
        "y": {"field": "y", "type": "quantitative", "scale": {"domain": [-1, 12], "nice": false, "zero": false},
          "axis": {"orient": "left", "values": [0, 2, 4, 6, 8, 10], "tickSize": -23, "labels": false, "title": null}},
        "y2": {"field": "b"}
      }
    },
    {
      "data": {"name": "sticks"},
      "transform": [{"filter": "datum.b < 5"}],
      "mark": {"type": "rule", "color": "#000000", "strokeWidth": 2},
      "encoding": {
        "x": {"field": "x", "type": "quantitative", "scale": {"domain": [1600, 2000], "nice": false, "zero": false},
          "axis": {"orient": "bottom", "values": [1610,1620,1630,1640,1650,1660,1670,1680,1690,1710,1720,1730,1740,1750,1760,1770,1780,1790,1810,1820,1830,1840,1850,1860,1870,1880,1890,1910,1920,1930,1940,1950,1960,1970,1980,1990], "tickSize": -20, "labels": false, "title": null}},
        "y": {"field": "y", "type": "quantitative", "scale": {"domain": [-1, 12], "nice": false, "zero": false}, "axis": null},
        "y2": {"field": "b"}
      }
    },
    {
      "data": {"name": "bases"},
      "mark": {"type": "rule", "color": "#000000", "strokeWidth": 2},
      "encoding": {
        "y": {"field": "b", "type": "quantitative", "scale": {"domain": [-1, 12], "nice": false, "zero": false},
          "axis": {"orient": "left", "values": [-0.5,0.5,1,1.5,2.5,3,3.5,4.5,5,5.5,6.5,7,7.5,8.5,9,9.5,10.5,11,11.5], "tickSize": -11, "labels": false, "title": null}}
      }
    },
    {
      "data": {"name": "labels"},
      "mark": {"type": "text", "align": "left", "baseline": "alphabetic", "fontSize": 24, "font": "DejaVu Sans", "color": "#000000"},
      "encoding": {
        "x": {"field": "x", "type": "quantitative", "scale": {"domain": [1600, 2000], "nice": false, "zero": false},
          "axis": {"orient": "top", "values": [1700, 1800, 1900], "tickSize": -40, "labels": false, "title": null}},
        "y": {"field": "y", "type": "quantitative", "scale": {"domain": [-1, 12], "nice": false, "zero": false},
          "axis": {"orient": "right", "values": [0, 2, 4, 6, 8, 10], "tickSize": -23, "labels": false, "title": null}},
        "text": {"field": "t", "type": "nominal"}
      }
    }
  ]
}
